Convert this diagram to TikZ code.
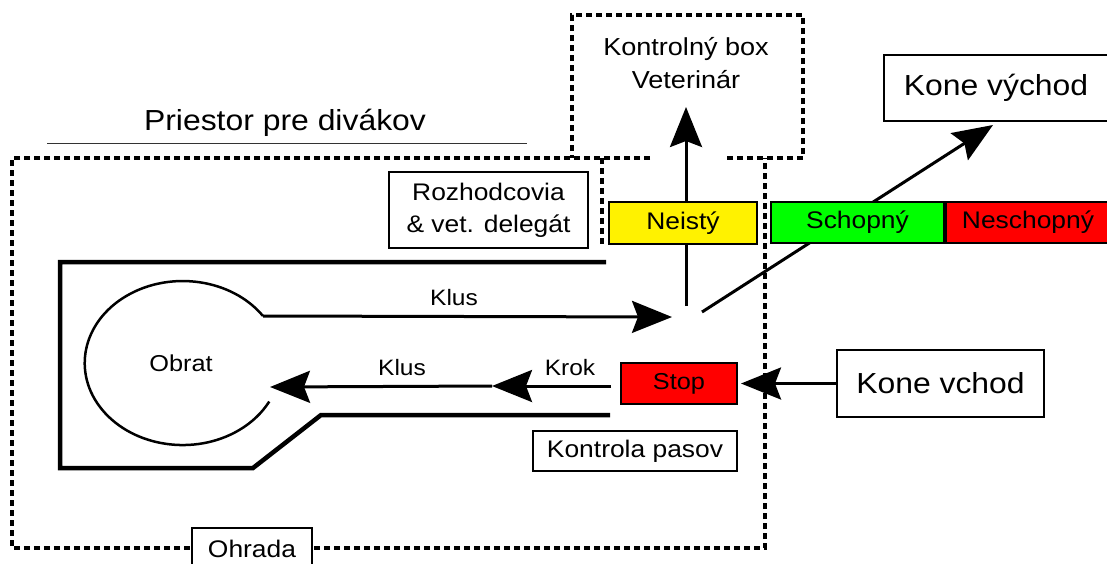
\documentclass[tikz,border=0pt]{standalone}
\usepackage{fontspec}
\setmainfont[FakeStretch=1.1]{Liberation Sans}
\usetikzlibrary{arrows.meta}
\tikzset{
  box/.style={draw=black, line width=2pt, inner sep=0pt, align=center},
  thinbox/.style={draw=black, line width=1.3pt, inner sep=0pt, align=center, fill=white},
  fence/.style={line width=3.2pt, dash pattern=on 6pt off 4pt},
  arena/.style={line width=4.5pt, line join=miter},
  flow/.style={line width=3pt, -{Stealth[length=40pt,width=32pt,inset=6pt]}},
  t21/.style={font=\fontsize{22.3}{26}\selectfont},
  t22/.style={font=\fontsize{23}{26}\selectfont},
  t23/.style={font=\fontsize{23}{28}\selectfont},
  t24/.style={font=\fontsize{24}{32}\selectfont},
  tk/.style={font=\fontsize{24.6}{33}\selectfont},
  t26/.style={font=\fontsize{29}{34}\selectfont},
  t29/.style={font=\fontsize{29}{34}\selectfont},
}
\begin{document}
\begin{tikzpicture}[x=1pt,y=-1pt]
\useasboundingbox[fill=white] (0,0) rectangle (1107,563);

% title
\node[t26] (title) at (285,123) {Priestor pre divákov};
\draw[line width=1pt, black!80] (47,143) -- (527,143);

% fences (dashed)
\draw[fence] (650,158) -- (12,158) -- (12,548) -- (765,548) -- (765,158);
\draw[fence] (727,158) -- (803,158) -- (803,15) -- (572,15) -- (572,158);
\draw[fence] (602,158) -- (602,244);
\node[tk, align=center] (kbox) at (686,63) {Kontrolný box\\Veterinár};

% arena
\draw[arena] (606,262) -- (60,262) -- (60,468) -- (253,468) -- (321,415) -- (610,415);

% turn (Obrat)
\coordinate (o1) at (263,316);
\draw[line width=2.5pt] (o1) arc[start angle=-35, end angle=-332, x radius=98, y radius=82];
\node[t22] (obrat) at (181,363) {Obrat};

% coordinates of junctions
\coordinate (tip1) at (672,317);
\coordinate (jv) at (686,306);
\coordinate (vet) at (686,107);
\coordinate (jd) at (702,312);
\coordinate (exit) at (993,125);
\coordinate (l0) at (611,386);
\coordinate (l1) at (492,386);
\coordinate (l2) at (270,387);

% connectors
\draw[flow] (o1) -- (tip1);
\draw[flow] (jv) -- (vet);
\draw[flow] (jd) -- (exit);
\draw[flow] (l0) -- (l1);
\draw[flow] (l1) -- (l2);

\node[t21] (klus1) at (454,298) {Klus};
\node[t21] (klus2) at (402,368) {Klus};
\node[t21] (krok) at (570,368) {Krok};

% boxes
\node[box, t24, minimum width=199pt, minimum height=76pt] (rozh) at (488.5,210) {Rozhodcovia\\\& vet. delegát};
\node[box, t24, fill=yellow, minimum width=148pt, minimum height=42pt] (neisty) at (683,223) {Neistý};
\node[box, t24, fill=green, minimum width=173pt, minimum height=41pt] (schop) at (857.5,222.5) {Schopný};
\node[box, t24, fill=red, minimum width=168pt, minimum height=41pt, anchor=west] (neschop) at (schop.east) {\hspace*{-4pt}Neschopný};
\node[box, t29, minimum width=228pt, minimum height=66pt] (kvychod) at (998,87.5) {\hspace*{-4pt}Kone východ};
\node[box, t23, fill=red, minimum width=116pt, minimum height=41pt] (stop) at (679,383.5) {Stop};
\node[box, t29, minimum width=207pt, minimum height=67pt] (kvchod) at (940.5,383.5) {Kone vchod};
\node[thinbox, t24, minimum width=204pt, minimum height=40pt] (pasy) at (635,451) {Kontrola pasov};
\node[thinbox, t24, minimum width=120pt, minimum height=42pt] (ohrada) at (252,549) {Ohrada};

\draw[flow, shorten >=3pt] (kvchod.west) -- (stop.east);
\end{tikzpicture}
\end{document}
